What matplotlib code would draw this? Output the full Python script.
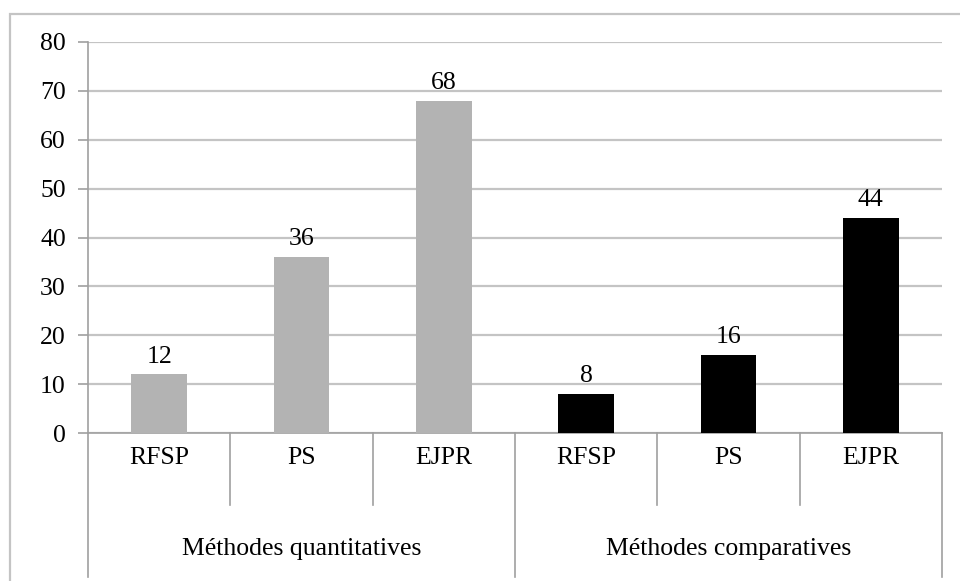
import matplotlib.pyplot as plt
from matplotlib.patches import Rectangle

# Data
groups = ['Méthodes quantitatives', 'Méthodes comparatives']
journals = ['RFSP', 'PS', 'EJPR']
quant_values = [12, 36, 68]
comp_values = [8, 16, 44]
group_colors = ['#b3b3b3', '#000000']

plt.rcParams['font.family'] = ['Liberation Serif', 'DejaVu Serif']
FS = 18.5

W, H = 960, 581
fig = plt.figure(figsize=(W / 100, H / 100), dpi=100)

# outer chart frame (runs off the right/bottom edges like the reference)
fig.patches.append(Rectangle((9.5 / W, -0.05), 1, 1.05 - 13.5 / H, transform=fig.transFigure,
                             fill=False, edgecolor='#c4c4c4', linewidth=1.6))

left, right, top, bottom = 88, 942, 42, 433
ax = fig.add_axes([left / W, 1 - bottom / H, (right - left) / W, (bottom - top) / H])

all_values = [quant_values, comp_values]
n = len(journals)
for g, vals in enumerate(all_values):
    xs = [g * n + i for i in range(n)]
    ax.bar(xs, vals, width=0.39, color=group_colors[g], zorder=3)
    for x, v in zip(xs, vals):
        ax.text(x, v + 1.4, str(v), ha='center', va='bottom', fontsize=FS, zorder=4)

ax.set_xlim(-0.5, 2 * n - 0.5)
ax.set_ylim(0, 80)
ax.set_yticks(range(0, 81, 10))
ax.yaxis.grid(True, color='#c4c4c4', linewidth=1.6, zorder=0)
ax.tick_params(axis='y', labelsize=FS, length=7, width=1.2, color='#a0a0a0', pad=9)
ax.set_xticks([])

for s in ['top', 'right']:
    ax.spines[s].set_visible(False)
ax.spines['left'].set_color('#a0a0a0')
ax.spines['left'].set_linewidth(1.2)
ax.spines['bottom'].set_color('#a0a0a0')
ax.spines['bottom'].set_linewidth(1.2)

# two-level category axis drawn below the plot
tr = ax.get_xaxis_transform()
sub_bottom = -(505 - bottom) / (bottom - top)
grp_bottom = -(577 - bottom) / (bottom - top)
for k in range(2 * n + 1):
    xk = k - 0.5
    yb = grp_bottom if k % n == 0 else sub_bottom
    ax.plot([xk, xk], [0, yb], transform=tr, color='#a0a0a0', lw=1.2, clip_on=False)

sub_y = -(458 - bottom) / (bottom - top)
grp_y = -(549 - bottom) / (bottom - top)
for g, name in enumerate(groups):
    for i, j in enumerate(journals):
        ax.text(g * n + i, sub_y, j, transform=tr, ha='center', va='center', fontsize=FS)
    ax.text(g * n + (n - 1) / 2, grp_y, name, transform=tr, ha='center', va='center', fontsize=FS)

fig.savefig('out.png', dpi=100)
